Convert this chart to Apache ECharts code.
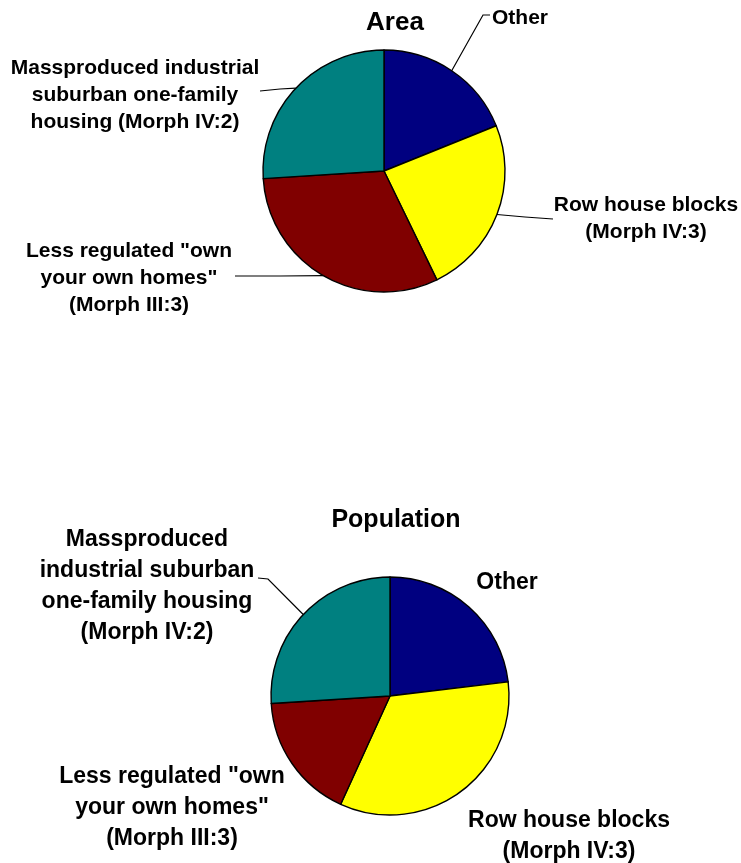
<!DOCTYPE html>
<html><head><meta charset="utf-8">
<script src="https://cdn.jsdelivr.net/npm/echarts@6/dist/echarts.min.js"></script>
<style>html,body{margin:0;padding:0;background:#fff}#c{width:741px;height:863px}</style>
</head><body><div id="c"></div>
<script>
// ---- data ----
const categories = ['Other', 'Row house blocks (Morph IV:3)', 'Less regulated "own your own homes" (Morph III:3)', 'Massproduced industrial suburban one-family housing (Morph IV:2)'];
const areaValues = [18.9, 23.9, 31.2, 26.0];
const populationValues = [23.1, 33.7, 17.2, 26.0];
const areaLabels = ['Other', 'Row house blocks\n(Morph IV:3)', 'Less regulated "own\nyour own homes"\n(Morph III:3)', 'Massproduced industrial\nsuburban one-family\nhousing (Morph IV:2)'];
const populationLabels = ['Other', 'Row house blocks\n(Morph IV:3)', 'Less regulated "own\nyour own homes"\n(Morph III:3)', 'Massproduced\nindustrial suburban\none-family housing\n(Morph IV:2)'];
const titles = ['Area', 'Population'];
const colors = ['#000080', '#FFFF00', '#800000', '#008080'];

// ---- layout (positions / styles) ----
const FONT = '"Liberation Sans", Arial, Helvetica, sans-serif';
const areaPlace = [
  {x: 492, y: 18, align: 'left', line: [[483, 15], [490, 15]]},
  {x: 646, y: 219, align: 'center', line: [[525, 217], [553, 219]]},
  {x: 129, y: 278, align: 'center', line: [[280, 276], [235, 276]]},
  {x: 135, y: 95, align: 'center', line: [[280, 89], [260, 91]]}
];
const popPlace = [
  {x: 507, y: 583, align: 'center', line: null},
  {x: 569, y: 836, align: 'center', line: null},
  {x: 172, y: 808, align: 'center', line: null},
  {x: 147, y: 586, align: 'center', line: [[268, 579], [258, 578]]}
];

function buildData(values, labels, place) {
  return values.map((v, i) => ({
    value: v,
    name: categories[i],
    labelText: labels[i],
    itemStyle: {color: colors[i]},
    labelLine: {show: !!place[i].line}
  }));
}

function makeLayout(place) {
  return function (params) {
    const p = place[params.dataIndex];
    const res = {x: p.x, y: p.y, align: p.align, verticalAlign: 'middle'};
    if (p.line && params.labelLinePoints && params.labelLinePoints[0]) {
      res.labelLinePoints = [params.labelLinePoints[0]].concat(p.line);
    }
    return res;
  };
}

function pieSeries(values, labels, place, center, radius, fontSize, lineHeight) {
  const data = buildData(values, labels, place);
  return {
    type: 'pie',
    center: center,
    radius: radius,
    startAngle: 90,
    clockwise: true,
    avoidLabelOverlap: false,
    animation: false,
    silent: true,
    itemStyle: {borderColor: '#000', borderWidth: 1.4},
    label: {
      show: true,
      position: 'outside',
      formatter: (p) => data[p.dataIndex].labelText,
      fontFamily: FONT,
      fontWeight: 'bold',
      fontSize: fontSize,
      lineHeight: lineHeight,
      color: '#000',
      align: 'center'
    },
    labelLine: {show: true, length: 10, length2: 10, lineStyle: {color: '#000', width: 1.2}},
    labelLayout: makeLayout(place),
    data: data
  };
}

const chart = echarts.init(document.getElementById('c'), null, {renderer: 'canvas'});
chart.setOption({
  backgroundColor: '#fff',
  animation: false,
  graphic: [
    {type: 'text', x: 395, y: 23, style: {text: titles[0], font: 'bold 26px ' + FONT, fill: '#000', align: 'center', verticalAlign: 'middle'}},
    {type: 'text', x: 396, y: 520, style: {text: titles[1], font: 'bold 25px ' + FONT, fill: '#000', align: 'center', verticalAlign: 'middle'}}
  ],
  series: [
    pieSeries(areaValues, areaLabels, areaPlace, [384, 171], 121, 21, 27),
    pieSeries(populationValues, populationLabels, popPlace, [390, 696], 119, 23, 31)
  ]
});
</script>
</body></html>
